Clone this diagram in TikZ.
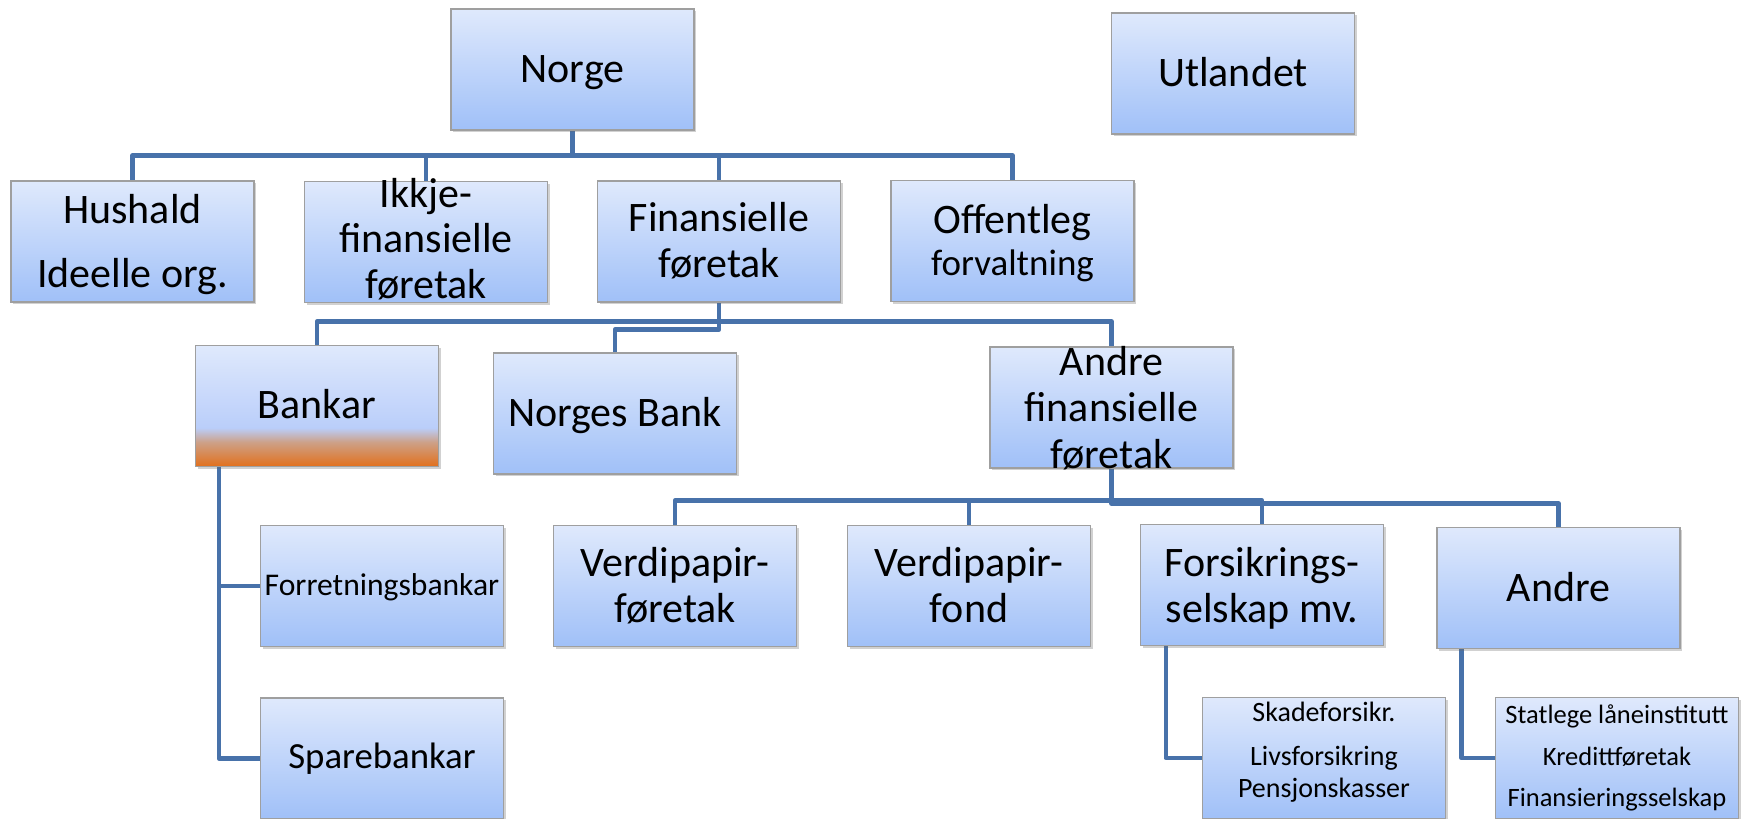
\documentclass[tikz,border=0pt]{standalone}
\usepackage{fontspec}
\setmainfont{Carlito}
\usetikzlibrary{shadows}
\definecolor{boxtop}{RGB}{223,233,252}
\definecolor{boxbot}{RGB}{160,192,248}
\definecolor{linecol}{RGB}{72,114,170}
\definecolor{bkorange}{RGB}{226,112,28}
\definecolor{bktan}{RGB}{205,160,135}
\definecolor{bkblue}{RGB}{186,206,250}
\pgfdeclareverticalshading{bankarshade}{100bp}{color(0bp)=(bkorange); color(25bp)=(bkorange); color(35bp)=(bktan); color(41bp)=(bkblue); color(75bp)=(boxtop); color(100bp)=(boxtop)}
\pgfdeclarelayer{bg}
\pgfsetlayers{bg,main}
\tikzset{
  box/.style={draw=gray!75, line width=0.6pt, top color=boxtop, bottom color=boxbot,
    minimum width=121.5pt, minimum height=60.5pt, inner sep=0pt,
    drop shadow={shadow xshift=1pt, shadow yshift=-1.2pt, opacity=0.3, fill=black!60}},
  txt/.style={inner sep=0pt, anchor=base, font=\fontsize{21}{24}\selectfont},
  txtm/.style={txt, font=\fontsize{18.5}{20}\selectfont},
  txts/.style={txt, font=\fontsize{14}{16}\selectfont},
  txtxs/.style={txt, font=\fontsize{13.25}{15}\selectfont},
  conn/.style={draw=linecol, line width=2.3pt, line join=round}
}
\begin{document}
\begin{tikzpicture}[x=0.5pt,y=-0.5pt]
\useasboundingbox (0,0) rectangle (1747,819);
% boxes
\node[box] (norge) at (572.5,69.5) {};
\node[box] (utland) at (1233,73.5) {};
\node[box] (hushald) at (132.5,241.5) {};
\node[box] (ikkje) at (426,242) {};
\node[box] (finans) at (719,241.5) {};
\node[box] (offentleg) at (1012.5,241) {};
\node[box, shading=bankarshade] (bankar) at (317,406) {};
\node[box] (nbank) at (615,413.5) {};
\node[box] (andrefin) at (1111.5,407.5) {};
\node[box] (vpf) at (675,586) {};
\node[box] (vpfond) at (969,586) {};
\node[box] (fors) at (1262,585) {};
\node[box] (andre) at (1558.5,588) {};
\node[box] (forr) at (382,586) {};
\node[box] (spare) at (382,758.5) {};
\node[box] (skade) at (1324,758) {};
\node[box] (andrek) at (1617,758) {};
% texts
\node[txt] (norge-t) at (norge.center |- 0,82) {Norge};
\node[txt] (utland-t) at (utland.center |- 0,86) {Utlandet};
\node[txt] (hushald-t1) at (hushald.center |- 0,223) {Hushald};
\node[txt] (hushald-t2) at (hushald.center |- 0,287) {Ideelle org.};
\node[txt] (ikkje-t1) at (ikkje.center |- 0,207) {Ikkje-};
\node[txt] (ikkje-t2) at (ikkje.center |- 0,252.5) {finansielle};
\node[txt] (ikkje-t3) at (ikkje.center |- 0,298) {føretak};
\node[txt] (finans-t1) at (finans.center |- 0,231) {Finansielle};
\node[txt] (finans-t2) at (finans.center |- 0,277) {føretak};
\node[txt] (offentleg-t1) at (offentleg.center |- 0,233) {Offentleg};
\node[txtm] (offentleg-t2) at (offentleg.center |- 0,275) {forvaltning};
\node[txt] (bankar-t) at (bankar.center |- 0,418) {Bankar};
\node[txt] (nbank-t) at (nbank.center |- 0,426.5) {Norges Bank};
\node[txt] (andrefin-t1) at (andrefin.center |- 0,375) {Andre};
\node[txt] (andrefin-t2) at (andrefin.center |- 0,421.5) {finansielle};
\node[txt] (andrefin-t3) at (andrefin.center |- 0,468) {føretak};
\node[txt] (vpf-t1) at (vpf.center |- 0,576) {Verdipapir-};
\node[txt] (vpf-t2) at (vpf.center |- 0,622) {føretak};
\node[txt] (vpfond-t1) at (vpfond.center |- 0,576) {Verdipapir-};
\node[txt] (vpfond-t2) at (vpfond.center |- 0,622) {fond};
\node[txt] (fors-t1) at (fors.center |- 0,576) {Forsikrings-};
\node[txt] (fors-t2) at (fors.center |- 0,622) {selskap mv.};
\node[txt] (andre-t) at (andre.center |- 0,601) {Andre};
\node[txt, font=\fontsize{15.8}{17}\selectfont] (forr-t) at (forr.center |- 0,595) {Forretningsbankar};
\node[txt, font=\fontsize{18.4}{20}\selectfont] (spare-t) at (spare.center |- 0,768) {Sparebankar};
\node[txts] (skade-t1) at (skade.center |- 0,721) {Skadeforsikr.};
\node[txts] (skade-t2) at (skade.center |- 0,765) {Livsforsikring};
\node[txts] (skade-t3) at (skade.center |- 0,797) {Pensjonskasser};
\node[txtxs] (andrek-t1) at (andrek.center |- 0,723) {Statlege låneinstitutt};
\node[txtxs] (andrek-t2) at (andrek.center |- 0,765) {Kredittføretak};
\node[txtxs] (andrek-t3) at (andrek.center |- 0,806) {Finansieringsselskap};
% connectors
\begin{pgfonlayer}{bg}
\foreach \c in {hushald,ikkje,finans,offentleg}
  \draw[conn] (norge.south) -- ++(0,25) -| (\c.north);
\foreach \c in {bankar,andrefin}
  \draw[conn] (finans.south) -- ++(0,19) -| (\c.north);
\draw[conn] (finans.south) -- ++(0,27) -| (nbank.north);
\foreach \c in {vpf,vpfond,fors}
  \draw[conn] (andrefin.south) -- ++(0,32) -| (\c.north);
\draw[conn] (andrefin.south) -- ++(0,35) -| (andre.north);
\draw[conn] ([xshift=12pt]bankar.south west) |- (forr.west);
\draw[conn] ([xshift=12pt]bankar.south west) |- (spare.west);
\draw[conn] ([xshift=13pt]fors.south west) |- (skade.west);
\draw[conn] ([xshift=12.5pt]andre.south west) |- (andrek.west);
\end{pgfonlayer}
\end{tikzpicture}
\end{document}
